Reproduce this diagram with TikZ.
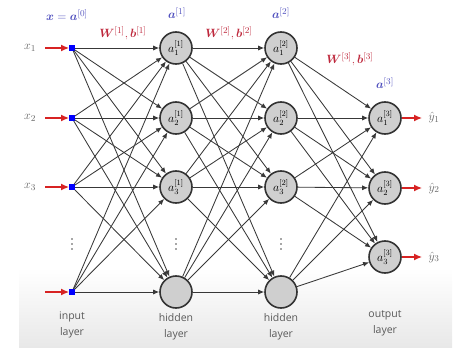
\documentclass[tikz,border=0pt]{standalone}
\usepackage{fontspec}
\usepackage{amsmath,bm}
\newfontfamily\labfont{Open Sans}
\usetikzlibrary{arrows.meta}
\definecolor{lblblue}{RGB}{80,80,190}
\definecolor{lblred}{RGB}{190,40,60}
\definecolor{arrred}{RGB}{215,35,35}
\begin{document}
\begin{tikzpicture}[x=1pt,y=-1pt,
  neuron/.style={circle,draw=black!80,line width=1.6pt,fill=black!19,minimum size=32pt,inner sep=0pt,font=\fontsize{11.5}{13}\selectfont},
  inp/.style={rectangle,fill=blue,minimum size=5.5pt,inner sep=0pt},
  edge/.style={draw=black!78,line width=0.85pt,-{Latex[length=6pt,width=5pt]}},
  redarr/.style={draw=arrred,line width=1.3pt,-{Latex[length=8pt,width=7pt]}},
  blbl/.style={text=lblblue,font=\fontsize{12.5}{14}\selectfont},
  rlbl/.style={text=lblred,font=\fontsize{12.5}{14}\selectfont},
  laylbl/.style={text=black!65,font=\labfont\fontsize{10.5}{16}\selectfont,align=center},
  side/.style={text=black!60,font=\fontsize{12.5}{14}\selectfont},
  dotc/.style={fill=black!70}]
\useasboundingbox (0,0) rectangle (463,350);
\shade[top color=white,bottom color=black!9] (19,268) rectangle (452,347);
% input layer
\foreach \i/\y in {1/48,2/118,3/187,4/292}{
  \node[inp] (i\i) at (72,\y) {};
  \coordinate (s\i) at (45,\y);
}
% hidden 1
\node[neuron] (h1) at (176,48) {$a^{[1]}_1$};
\node[neuron] (h2) at (176,118) {$a^{[1]}_2$};
\node[neuron] (h3) at (176,187) {$a^{[1]}_3$};
\node[neuron] (h4) at (176,292) {};
% hidden 2
\node[neuron] (g1) at (281,48) {$a^{[2]}_1$};
\node[neuron] (g2) at (281,118) {$a^{[2]}_2$};
\node[neuron] (g3) at (281,187) {$a^{[2]}_3$};
\node[neuron] (g4) at (281,292) {};
% output
\node[neuron] (o1) at (385,118) {$a^{[3]}_1$};
\node[neuron] (o2) at (385,188) {$a^{[3]}_2$};
\node[neuron] (o3) at (385,257) {$a^{[3]}_3$};
% edges
\foreach \a in {1,...,4}{
  \foreach \b in {1,...,4}{
    \draw[edge] (i\a) -- (h\b);
    \draw[edge] (h\a) -- (g\b);
  }
  \foreach \b in {1,...,3}{
    \draw[edge] (g\a) -- (o\b);
  }
}
% input arrows and labels
\foreach \i in {1,...,4}{ \draw[redarr] (s\i) -- (i\i); }
\node[side] (xl1) at (30,48) {$x_1$};
\node[side] (xl2) at (30,118) {$x_2$};
\node[side] (xl3) at (30,187) {$x_3$};
% output arrows
\foreach \i/\y in {1/118,2/188,3/257}{
  \coordinate (e\i) at (422,\y);
  \draw[redarr] (o\i) -- (e\i);
  \node[side,anchor=west] (yl\i) at (425,\y) {$\hat{y}_\i$};
}
% dots
\foreach \x in {72,176,281}{
  \foreach \dy in {-5,0,5}{
    \fill[dotc] (\x,244+\dy) circle (0.9pt);
  }
}
% top labels
\node[blbl] (t0) at (67,15) {$\bm{x}=\bm{a}^{[0]}$};
\node[blbl] (t1) at (177,13) {$\bm{a}^{[1]}$};
\node[blbl] (t2) at (281,13) {$\bm{a}^{[2]}$};
\node[blbl] (t3) at (385,83) {$\bm{a}^{[3]}$};
\node[rlbl] (w1) at (123,33) {$\bm{W}^{[1]},\bm{b}^{[1]}$};
\node[rlbl] (w2) at (229,33) {$\bm{W}^{[2]},\bm{b}^{[2]}$};
\node[rlbl] (w3) at (350,59) {$\bm{W}^{[3]},\bm{b}^{[3]}$};
% bottom labels
\node[laylbl] (l1) at (72,325) {input\\layer};
\node[laylbl] (l2) at (176,327) {hidden\\layer};
\node[laylbl] (l3) at (281,327) {hidden\\layer};
\node[laylbl] (l4) at (385,323) {output\\layer};
\end{tikzpicture}
\end{document}
